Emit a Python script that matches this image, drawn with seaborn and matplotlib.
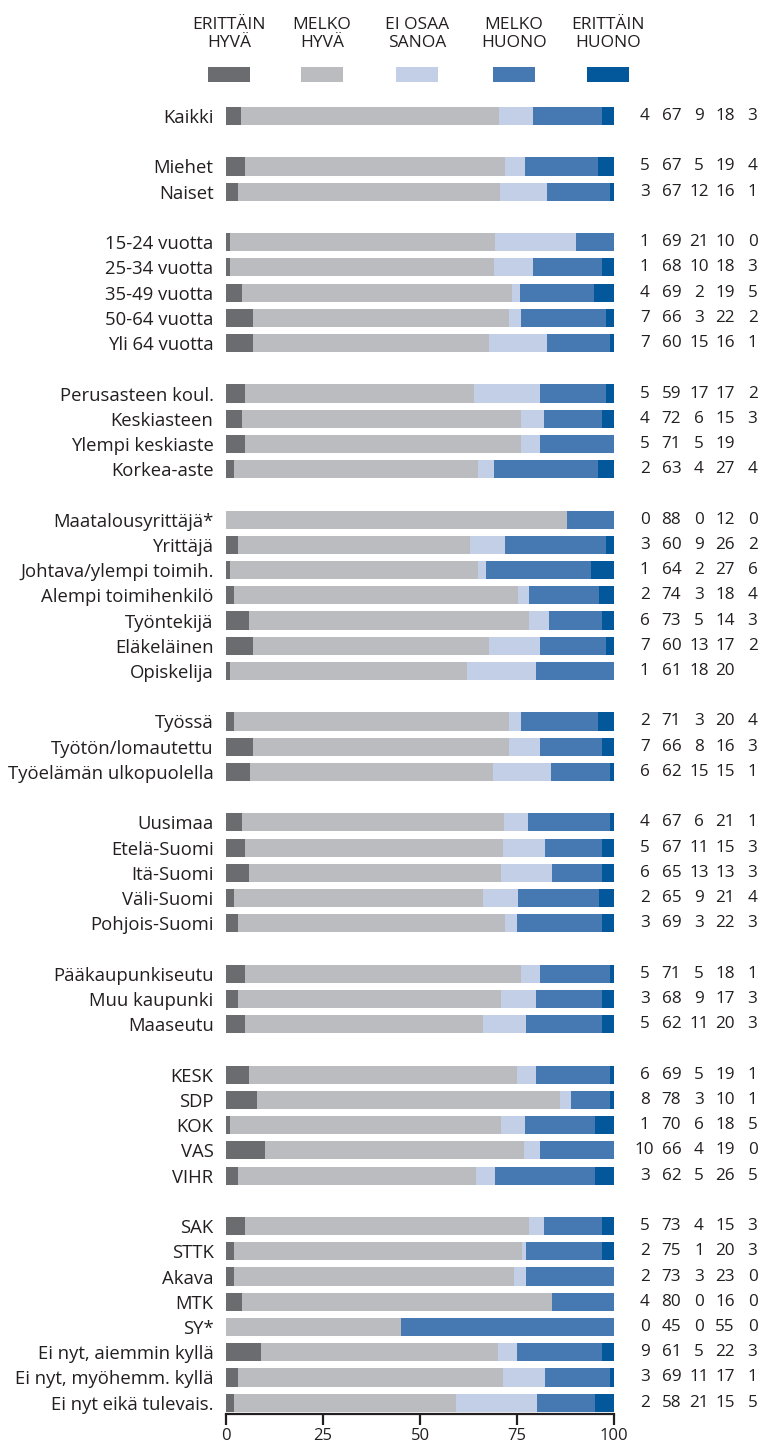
import numpy as np
import pandas as pd
import seaborn as sns
import matplotlib.pyplot as plt
from matplotlib.patches import Rectangle

# rivit ("" = tyhjä väli ryhmien välissä)
labels = ["Kaikki", "",
          "Miehet", "Naiset", "",
          "15-24 vuotta", "25-34 vuotta", "35-49 vuotta", "50-64 vuotta", "Yli 64 vuotta", "",
          "Perusasteen koul.", "Keskiasteen", "Ylempi keskiaste", "Korkea-aste", "",
          "Maatalousyrittäjä*", "Yrittäjä", "Johtava/ylempi toimih.", "Alempi toimihenkilö",
          "Työntekijä", "Eläkeläinen", "Opiskelija", "",
          "Työssä", "Työtön/lomautettu", "Työelämän ulkopuolella", "",
          "Uusimaa", "Etelä-Suomi", "Itä-Suomi", "Väli-Suomi", "Pohjois-Suomi", "",
          "Pääkaupunkiseutu", "Muu kaupunki", "Maaseutu", "",
          "KESK", "SDP", "KOK", "VAS", "VIHR", "",
          "SAK", "STTK", "Akava", "MTK", "SY*", "Ei nyt, aiemmin kyllä",
          "Ei nyt, myöhemm. kyllä", "Ei nyt eikä tulevais."]

erittain_hyva = [4, None, 5, 3, None, 1, 1, 4, 7, 7, None, 5, 4, 5, 2, None,
                 0, 3, 1, 2, 6, 7, 1, None, 2, 7, 6, None, 4, 5, 6, 2, 3, None,
                 5, 3, 5, None, 6, 8, 1, 10, 3, None, 5, 2, 2, 4, 0, 9, 3, 2]
melko_hyva = [67, None, 67, 67, None, 69, 68, 69, 66, 60, None, 59, 72, 71, 63, None,
              88, 60, 64, 74, 73, 60, 61, None, 71, 66, 62, None, 67, 67, 65, 65, 69, None,
              71, 68, 62, None, 69, 78, 70, 66, 62, None, 73, 75, 73, 80, 45, 61, 69, 58]
ei_osaa_sanoa = [9, None, 5, 12, None, 21, 10, 2, 3, 15, None, 17, 6, 5, 4, None,
                 0, 9, 2, 3, 5, 13, 18, None, 3, 8, 15, None, 6, 11, 13, 9, 3, None,
                 5, 9, 11, None, 5, 3, 6, 4, 5, None, 4, 1, 3, 0, 0, 5, 11, 21]
melko_huono = [18, None, 19, 16, None, 10, 18, 19, 22, 16, None, 17, 15, 19, 27, None,
               12, 26, 27, 18, 14, 17, 20, None, 20, 16, 15, None, 21, 15, 13, 21, 22, None,
               18, 17, 20, None, 19, 10, 18, 19, 26, None, 15, 20, 23, 16, 55, 22, 17, 15]
erittain_huono = [3, None, 4, 1, None, 0, 3, 5, 2, 1, None, 2, 3, None, 4, None,
                  0, 2, 6, 4, 3, 2, None, None, 4, 3, 1, None, 1, 3, 3, 4, 3, None,
                  1, 3, 3, None, 1, 1, 5, 0, 5, None, 3, 3, 0, 0, 0, 3, 1, 5]

series = ["ERITTÄIN\nHYVÄ", "MELKO\nHYVÄ", "EI OSAA\nSANOA", "MELKO\nHUONO", "ERITTÄIN\nHUONO"]
colors = ["#6b6c70", "#bbbcc0", "#c2cfe6", "#4678b1", "#03589b"]

sns.set_style("white")
plt.rcParams["font.family"] = ["Open Sans", "DejaVu Sans"]

cols = [erittain_hyva, melko_hyva, ei_osaa_sanoa, melko_huono, erittain_huono]
keys = [f"s{i}" for i in range(5)]
df = pd.DataFrame({k: pd.to_numeric(pd.Series(c), errors="coerce") for k, c in zip(keys, cols)})
df["row"] = [lab if lab else f"_gap{i}" for i, lab in enumerate(labels)]
order = list(df["row"])
raw = df[keys].copy()
vals = raw.fillna(0)
tot = vals.sum(axis=1).replace(0, np.nan)
pct = vals.div(tot, axis=0) * 100
cum = pct.cumsum(axis=1)
cum["row"] = df["row"]

fig = plt.figure(figsize=(7.62, 14.44), dpi=100)
ax = fig.add_axes([226 / 762, 1 - 1414 / 1444, 388 / 762, (1414 - 103.4) / 1444])

# pinotut palkit: kumulatiiviset summat päällekkäin, suurin ensin
for i in range(4, -1, -1):
    d = cum[cum[keys[i]].notna()]
    sns.barplot(data=d, x=keys[i], y="row", order=order, orient="h",
                color=colors[i], saturation=1, width=0.72, linewidth=0, ax=ax)

n = len(labels)
ax.set_ylim(n - 1 + 0.45, -0.5)
ax.set_xlim(0, 100)
ax.set_yticks(range(n))
ax.set_yticklabels(labels, fontsize=13.3, color="#231f20")
ax.tick_params(axis="y", length=0, pad=9)
ax.set_xticks([0, 25, 50, 75, 100])
ax.tick_params(axis="x", bottom=True, direction="out", length=8, width=1.6,
               labelsize=12, colors="#231f20", pad=2)
ax.set_xlabel("")
ax.set_ylabel("")
for s in ["top", "right", "left"]:
    ax.spines[s].set_visible(False)
ax.spines["bottom"].set_linewidth(1.6)
ax.spines["bottom"].set_color("#231f20")

# lukuarvot oikealla
num_x = [107.9, 114.8, 121.9, 128.6, 135.7]
for r in range(n):
    for j, k in enumerate(keys):
        v = raw.iloc[r][k]
        if pd.notna(v):
            ax.text(num_x[j], r, f"{int(v)}", ha="center", va="center",
                    fontsize=12.3, color="#231f20", clip_on=False)

# selite
leg_cx = [229, 322, 417, 514, 608]
for cx, name, c in zip(leg_cx, series, colors):
    fig.text(cx / 762, 1 - 34 / 1444, name, ha="center", va="center",
             fontsize=12.5, color="#231f20", linespacing=1.2)
    fig.patches.append(Rectangle(((cx - 21) / 762, 1 - 82 / 1444), 42 / 762, 15 / 1444,
                                 transform=fig.transFigure, color=c, lw=0))

fig.savefig("out.png", dpi=100)
